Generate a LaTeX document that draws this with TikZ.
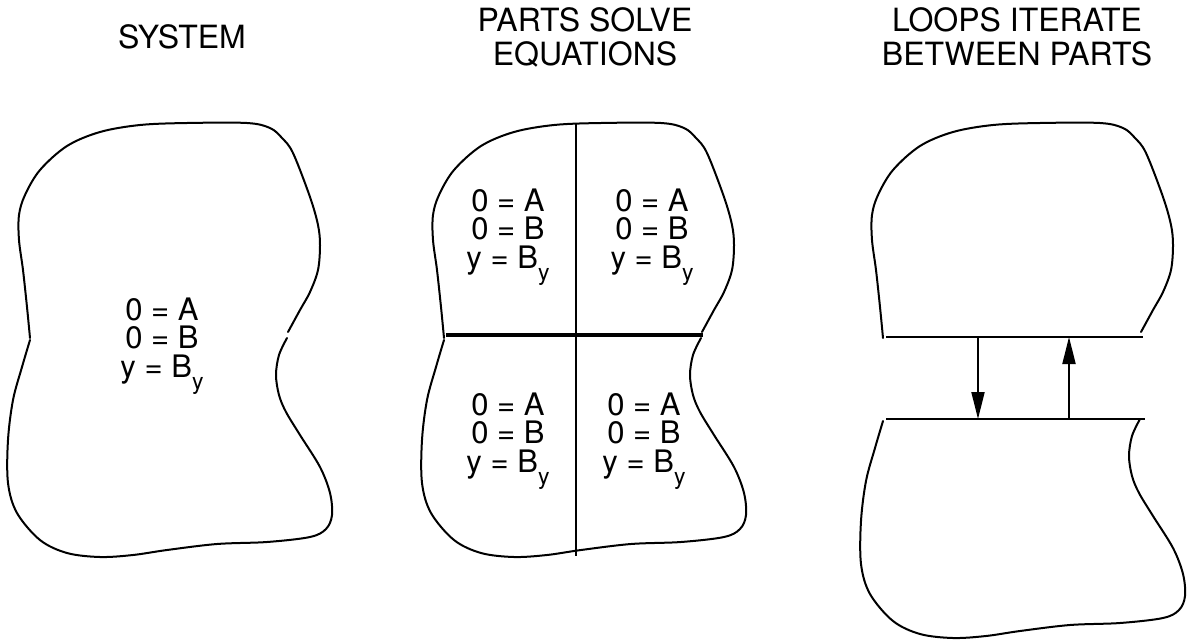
\documentclass[tikz,border=0pt]{standalone}
\usepackage{fontspec}
\setmainfont{TeX Gyre Heros}
\usetikzlibrary{arrows.meta}

% lowered subscript used in the equations
\newcommand\suby{\raisebox{-12pt}{\fontsize{23}{23}\selectfont y}}

\tikzset{
  outline/.style={line width=2pt, line cap=round, line join=round},
  heavy/.style={line width=3.8pt},
  % multi-line nodes: the base anchor sits on the last line's baseline
  title/.style={font=\fontsize{32}{34}\selectfont, align=center, inner sep=0pt, anchor=base},
  eqs/.style={font=\fontsize{31}{28.5}\selectfont, align=center, inner sep=0pt, anchor=base},
  flow/.style={line width=2pt, -{Triangle[length=27pt,width=13pt]}},
  % upper half of a part outline (left notch -> top -> right notch)
  uphalf/.pic={
    \draw[outline] plot[smooth, tension=0.55] coordinates {
      (30,338) (27,307) (23,270) (19,240) (19,215) (25,195) (40,170) (67,146)
      (100,132) (140,125) (187,123) (247,123) (270,128) (282,138) (293,153)
      (310,197) (318,225) (320,245) (318,270) (310,292) (300,310) (288,332)};
  },
  % lower half of a part outline (right notch -> bottom -> left notch)
  lowhalf/.pic={
    \draw[outline] plot[smooth, tension=0.55] coordinates {
      (287,338) (279,355) (276,375) (279,395) (286,412) (300,435) (320,467)
      (330,493) (332,515) (326,529) (310,537) (267,542) (217,544) (167,550)
      (133,555) (100,557) (67,553) (40,540) (17,513) (8,483) (8,440) (13,400)
      (22,367) (30,340)};
  }
}

\begin{document}
\begin{tikzpicture}[x=1pt, y=-1pt]
  \useasboundingbox (0,0) rectangle (1188,643);

  % titles
  \node[title] (t1) at (182,48) {SYSTEM};
  \node[title] (t2) at (585,65) {PARTS SOLVE\\EQUATIONS};
  \node[title] (t3) at (1017,65) {LOOPS ITERATE\\BETWEEN PARTS};

  % whole system
  \pic at (0,0) {uphalf};
  \pic at (0,0) {lowhalf};
  \node[eqs] (e1) at (162,377) {0 = A\\0 = B\\y = B\suby};

  % system split into four parts
  \pic at (414,0) {uphalf};
  \pic at (414,0) {lowhalf};
  \coordinate (vtop) at (576,123);
  \coordinate (vbot) at (576,556);
  \coordinate (hl) at (446,335);
  \coordinate (hr) at (703,335);
  \draw[line width=2pt] (vtop) -- (vbot);
  \draw[heavy] (hl) -- (hr);
  \node[eqs] (e2) at (508,268) {0 = A\\0 = B\\y = B\suby};
  \node[eqs] (e3) at (652,268) {0 = A\\0 = B\\y = B\suby};
  \node[eqs] (e4) at (508,472) {0 = A\\0 = B\\y = B\suby};
  \node[eqs] (e5) at (644,472) {0 = A\\0 = B\\y = B\suby};

  % two parts pulled apart, exchanging values
  \pic at (853,0) {uphalf};
  \pic at (853,81) {lowhalf};
  \coordinate (ul) at (886,337);
  \coordinate (ur) at (1143,337);
  \coordinate (ll) at (886,419);
  \coordinate (lr) at (1145,419);
  \draw[line width=2pt] (ul) -- (ur);
  \draw[line width=2pt] (ll) -- (lr);
  \coordinate (da) at (978,337);
  \coordinate (db) at (978,419);
  \coordinate (ua) at (1069,419);
  \coordinate (ub) at (1069,337);
  \draw[flow] (da) -- (db);
  \draw[flow] (ua) -- (ub);
\end{tikzpicture}
\end{document}
